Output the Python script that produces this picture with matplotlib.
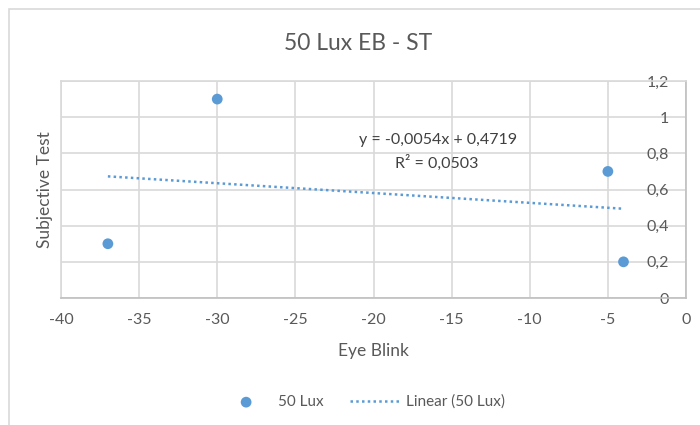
from matplotlib import pyplot as plt
from matplotlib.patches import Rectangle
import numpy as np

eye_blink = [-37, -30, -5, -4]
subjective = [0.3, 1.1, 0.7, 0.2]
x_ticks = [-40, -35, -30, -25, -20, -15, -10, -5, 0]
y_ticks = [0, 0.2, 0.4, 0.6, 0.8, 1.0, 1.2]

blue = '#5b9bd5'
grey_text = '#595959'
grid = '#d9d9d9'


def comma(v, fmt='{:g}'):
	return fmt.format(v).replace('.', ',')


if __name__ == '__main__':
	plt.rcParams['font.family'] = ['Lato', 'DejaVu Sans']

	fig = plt.figure(figsize=(7, 4.25), dpi=100)
	ax = fig.add_axes([61 / 700, 1 - 298 / 425, (686 - 61) / 700, (298 - 81) / 425])

	# outer chart frame (cropped on right/bottom)
	fig.patches.append(Rectangle((9 / 700, -0.1), 2, 1.1 - 9 / 425, transform=fig.transFigure,
		fill=False, edgecolor=grid, linewidth=1.2))

	x = np.array(eye_blink, dtype=float)
	y = np.array(subjective, dtype=float)
	slope, intercept = np.polyfit(x, y, 1)
	r2 = np.corrcoef(x, y)[0, 1] ** 2

	ax.scatter(x, y, s=60, color=blue, zorder=3, label='50 Lux', edgecolors='none')
	xs = np.array([x.min(), x.max()])
	ax.plot(xs, slope * xs + intercept, linestyle=(0, (1, 1.3)), color=blue, linewidth=1.8,
		label='Linear (50 Lux)', zorder=2)

	ax.set_xlim(-40, 0)
	ax.set_ylim(0, 1.2)
	ax.set_xticks(x_ticks)
	ax.set_yticks(y_ticks)
	ax.set_xticklabels([comma(v) for v in x_ticks])
	ax.set_yticklabels([comma(v) for v in y_ticks])
	ax.grid(True, color=grid, linewidth=1.2, zorder=0)
	ax.set_axisbelow(True)
	for s in ax.spines.values():
		s.set_color(grid)
		s.set_linewidth(1.2)
	ax.spines['bottom'].set_color('#bfbfbf')
	ax.spines['right'].set_color('#bfbfbf')

	ax.tick_params(axis='x', length=0, pad=11, labelsize=11.5, labelcolor=grey_text)
	ax.tick_params(axis='y', length=0, left=False, labelleft=False, labelright=True,
		pad=-12, labelsize=11.5, labelcolor=grey_text)
	for lbl in ax.get_yticklabels():
		lbl.set_horizontalalignment('right')

	ax.set_xlabel('Eye Blink', fontsize=12.5, color=grey_text, labelpad=11)
	ax.set_ylabel('Subjective Test', fontsize=12.5, color=grey_text, labelpad=6)
	fig.text(358 / 700, 1 - 44 / 425, '50 Lux EB - ST', ha='center', va='center',
		fontsize=16.5, color=grey_text)

	eq = 'y = ' + comma(slope, '{:.4f}') + 'x + ' + comma(intercept, '{:.4f}')
	ax.text(-15.87, 0.874, eq, ha='center', va='center', fontsize=11.5, color='#404040')
	ax.text(-15.94, 0.747, 'R² = ' + comma(r2, '{:.4f}'), ha='center', va='center',
		fontsize=11.5, color='#404040')

	fig.legend(loc='center', bbox_to_anchor=(363.5 / 700, 23 / 425), ncol=2, frameon=False,
		fontsize=11, labelcolor=grey_text, handlelength=3.2, handletextpad=0.5,
		columnspacing=1.7)

	fig.savefig('out.png', dpi=100)
